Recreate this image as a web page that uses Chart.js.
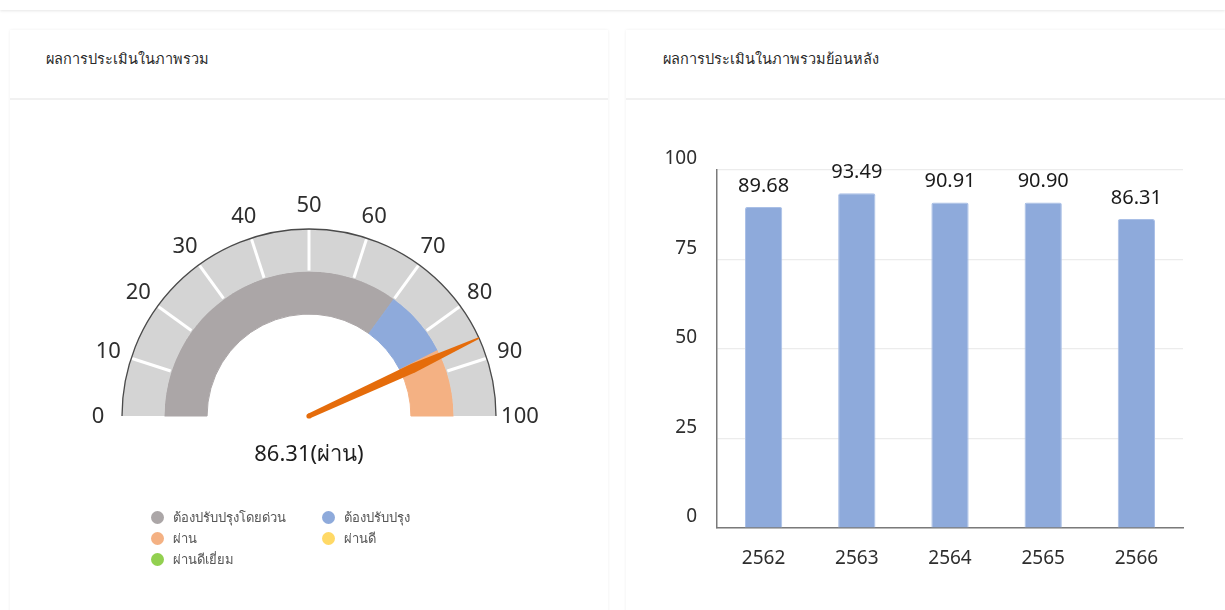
<!DOCTYPE html>
<html>
<head>
<meta charset="utf-8">
<script src="https://cdn.jsdelivr.net/npm/chart.js@4.4.1/dist/chart.umd.min.js"></script>
<style>
  html, body { margin: 0; padding: 0; background: #ffffff; width: 1225px; height: 610px; overflow: hidden;
    font-family: "Noto Sans", "Open Sans", sans-serif; }
  .topbar { position: absolute; left: 0; top: 0; width: 1225px; height: 10px; background: #fff;
    box-shadow: 0 1px 3px rgba(0,0,0,0.10); }
  .card { position: absolute; top: 30px; height: 600px; background: #fff;
    box-shadow: 0 0 3px rgba(0,0,0,0.07); }
  .card .hdr { height: 70px; border-bottom: 2px solid #f1f1f1; box-sizing: border-box; position: relative; }
  .card .hdr span { position: absolute; top: 17px; font-size: 14.5px; color: #2a2a2a; }
  #leftCard { left: 10px; width: 598px; }
  #rightCard { left: 626px; width: 610px; }
  canvas { position: absolute; }
  #legend { position: absolute; left: 140px; top: 508px; font-size: 13px; color: #555;
    display: grid; grid-template-columns: 171px 140px; row-gap: 3px; }
  #legend div { display: flex; align-items: center; height: 18px; white-space: nowrap; }
  #legend i { display: inline-block; width: 13px; height: 13px; border-radius: 50%; margin-left: 11px; margin-right: 9px; }
</style>
</head>
<body>
<div class="topbar"></div>
<div class="card" id="leftCard"><div class="hdr"><span style="left:36px">ผลการประเมินในภาพรวม</span></div></div>
<div class="card" id="rightCard"><div class="hdr"><span style="left:37px">ผลการประเมินในภาพรวมย้อนหลัง</span></div></div>
<canvas id="gauge" width="598" height="508" style="left:10px;top:102px"></canvas>
<div id="legend"></div>
<canvas id="bars" width="599" height="508" style="left:626px;top:102px"></canvas>
<script>
// ---- data ----
const gaugeTicks = [0, 10, 20, 30, 40, 50, 60, 70, 80, 90, 100];
const zoneLabels = ['ต้องปรับปรุงโดยด่วน', 'ต้องปรับปรุง', 'ผ่าน', 'ผ่านดี', 'ผ่านดีเยี่ยม'];
const zoneValues = [70, 15, 15, 0, 0];
const zoneColors = ['#aba6a7', '#8eaadb', '#f4b183', '#ffd966', '#92d050'];
const score = 86.31;
const scoreLabel = 'ผ่าน';
const years = ['2562', '2563', '2564', '2565', '2566'];
const yearScores = [89.68, 93.49, 90.91, 90.90, 86.31];
const yTicks = [0, 25, 50, 75, 100];

const ringValues = gaugeTicks.slice(1).map((t, i) => t - gaugeTicks[i]);

// ---- gauge plugin ----
const gaugeDecor = {
  id: 'gaugeDecor',
  afterDatasetsDraw(chart) {
    const ctx = chart.ctx;
    const ring = chart.getDatasetMeta(0).data;
    const first = ring[0], last = ring[ring.length - 1];
    const cx = first.x, cy = first.y;
    const rOut = first.outerRadius, rIn = first.innerRadius;
    const a0 = first.startAngle, a1 = last.endAngle;
    const total = gaugeTicks[gaugeTicks.length - 1] - gaugeTicks[0];
    const ang = v => a0 + (a1 - a0) * (v - gaugeTicks[0]) / total;
    ctx.save();
    // white tick lines
    ctx.strokeStyle = '#ffffff';
    ctx.lineWidth = 3;
    gaugeTicks.slice(1, -1).forEach(t => {
      const a = ang(t);
      ctx.beginPath();
      ctx.moveTo(cx + Math.cos(a) * (rIn + 1), cy + Math.sin(a) * (rIn + 1));
      ctx.lineTo(cx + Math.cos(a) * (rOut - 1), cy + Math.sin(a) * (rOut - 1));
      ctx.stroke();
    });
    // outer border arc
    ctx.strokeStyle = '#4a4a4a';
    ctx.lineWidth = 1.3;
    ctx.beginPath();
    ctx.arc(cx, cy, rOut, a0, a1);
    ctx.stroke();
    // tick labels
    ctx.fillStyle = '#2e2e2e';
    ctx.font = '22px "Noto Sans", sans-serif';
    ctx.textAlign = 'center';
    ctx.textBaseline = 'middle';
    gaugeTicks.forEach(t => {
      const a = ang(t);
      ctx.fillText(String(t), cx + Math.cos(a) * (rOut + 24), cy + Math.sin(a) * (rOut + 24) + 1);
    });
    // needle
    const a = ang(score);
    const ux = Math.cos(a), uy = Math.sin(a), px = -uy, py = ux;
    const pts = [[0, 2.6], [115, 4.6], [rOut, 0.8], [rOut, -0.8], [115, -4.6], [0, -2.6]];
    ctx.fillStyle = '#e56c0b';
    ctx.beginPath();
    pts.forEach((p, i) => {
      const x = cx + ux * p[0] + px * p[1], y = cy + uy * p[0] + py * p[1];
      if (i === 0) ctx.moveTo(x, y); else ctx.lineTo(x, y);
    });
    ctx.closePath();
    ctx.fill();
    ctx.beginPath();
    ctx.arc(cx, cy, 2.6, 0, Math.PI * 2);
    ctx.fill();
    // value text
    ctx.fillStyle = '#1e1e1e';
    ctx.font = '22px "Noto Sans", sans-serif';
    ctx.fillText(score.toFixed(2) + '(' + scoreLabel + ')', cx, cy + 39);
    ctx.restore();
  }
};

const gauge = new Chart(document.getElementById('gauge'), {
  type: 'doughnut',
  data: {
    labels: zoneLabels,
    datasets: [
      { data: ringValues, backgroundColor: '#d4d4d4', borderWidth: 0, hoverOffset: 0 },
      { data: zoneValues, backgroundColor: zoneColors, borderColor: zoneColors, borderWidth: 1, hoverOffset: 0 }
    ]
  },
  options: {
    responsive: false,
    animation: false,
    rotation: -90,
    circumference: 180,
    cutout: '54.5%',
    layout: { padding: { left: 112, right: 112, top: 127, bottom: 194 } },
    plugins: { legend: { display: false }, tooltip: { enabled: false } }
  },
  plugins: [gaugeDecor]
});

// HTML legend built from chart labels
const leg = document.getElementById('legend');
gauge.data.labels.forEach((lab, i) => {
  const d = document.createElement('div');
  const dot = document.createElement('i');
  dot.style.background = gauge.data.datasets[1].backgroundColor[i];
  d.appendChild(dot);
  d.appendChild(document.createTextNode(lab));
  leg.appendChild(d);
});

// ---- bar chart ----
const barLabels = {
  id: 'barLabels',
  afterDatasetsDraw(chart) {
    const ctx = chart.ctx;
    ctx.save();
    ctx.fillStyle = '#1a1a1a';
    ctx.font = '20px "Noto Sans", sans-serif';
    ctx.textAlign = 'center';
    ctx.textBaseline = 'bottom';
    chart.getDatasetMeta(0).data.forEach((bar, i) => {
      ctx.fillText(yearScores[i].toFixed(2), bar.x, bar.y - 11);
    });
    ctx.restore();
  }
};

new Chart(document.getElementById('bars'), {
  type: 'bar',
  data: {
    labels: years,
    datasets: [{
      data: yearScores,
      backgroundColor: '#8eaadb',
      borderColor: '#a9bfe6',
      borderWidth: 1,
      borderRadius: 2,
      borderSkipped: 'bottom',
      barPercentage: 0.4,
      categoryPercentage: 1
    }]
  },
  options: {
    responsive: false,
    animation: false,
    layout: { padding: { left: 0, right: 42, top: 68, bottom: 0 } },
    plugins: { legend: { display: false }, tooltip: { enabled: false } },
    scales: {
      x: {
        grid: { display: false, drawTicks: false },
        border: { display: true, color: '#7a7a7a', width: 1.5 },
        ticks: { color: '#2e2e2e', font: { size: 19, family: '"Noto Sans", sans-serif' }, padding: 19 },
        afterFit(s) { s.height = 82; }
      },
      y: {
        min: yTicks[0],
        max: yTicks[yTicks.length - 1],
        afterBuildTicks(s) { s.ticks = yTicks.map(v => ({ value: v })); },
        grid: { color: '#ececec', lineWidth: 1.2, drawTicks: false },
        border: { display: true, color: '#7a7a7a', width: 1.5 },
        ticks: { color: '#2e2e2e', font: { size: 19, family: '"Noto Sans", sans-serif' }, padding: 20, labelOffset: -11 },
        afterFit(s) { s.width = 91; }
      }
    }
  },
  plugins: [barLabels]
});
</script>
</body>
</html>
